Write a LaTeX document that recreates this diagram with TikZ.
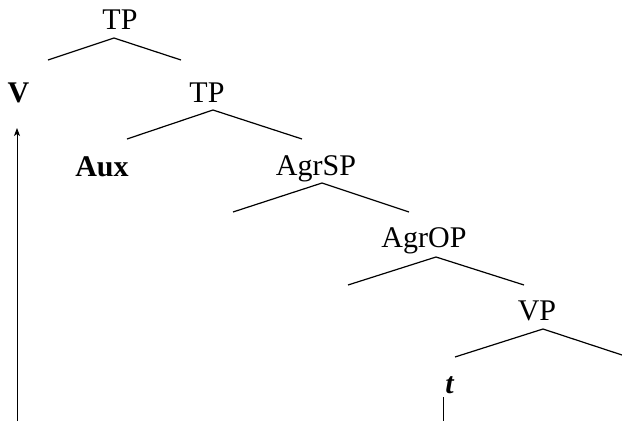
\documentclass[tikz,border=0pt]{standalone}
\usepackage{fontspec}
\setmainfont{Liberation Serif}
\usetikzlibrary{arrows.meta}
\tikzset{cat/.style={anchor=base,inner sep=0pt,font=\fontsize{30}{36}\selectfont},
	branch/.style={line width=1.2pt}}
\begin{document}
\begin{tikzpicture}[x=1pt,y=-1pt]
		\useasboundingbox (0,0) rectangle (622,421);
		\node[cat] (tp1) at (120,29) {TP};
		\node[cat] (v) at (18.5,102) {\textbf{V}};
		\node[cat] (tp2) at (207,102) {TP};
		\node[cat] (aux) at (102,176) {\textbf{Aux}};
		\node[cat] (agrsp) at (316,175) {AgrSP};
		\node[cat] (agrop) at (424,247) {AgrOP};
		\node[cat] (vp) at (537,320) {VP};
		\node[cat] (t) at (450,393) {\textbf{\textit{t}}};
		\coordinate (tp1-a) at (114,38); \coordinate (tp1-l) at (48,60); \coordinate (tp1-r) at (181,60);
		\coordinate (tp2-a) at (213,110); \coordinate (tp2-l) at (127,139); \coordinate (tp2-r) at (302,139);
		\coordinate (agrsp-a) at (322,183); \coordinate (agrsp-l) at (233,212); \coordinate (agrsp-r) at (409,212);
		\coordinate (agrop-a) at (436,257); \coordinate (agrop-l) at (348,285); \coordinate (agrop-r) at (524,285);
		\coordinate (vp-a) at (543,329); \coordinate (vp-l) at (455,357); \coordinate (vp-r) at (622,355);
		\draw[branch] (tp1-l)--(tp1-a)--(tp1-r);
		\draw[branch] (tp2-l)--(tp2-a)--(tp2-r);
		\draw[branch] (agrsp-l)--(agrsp-a)--(agrsp-r);
		\draw[branch] (agrop-l)--(agrop-a)--(agrop-r);
		\draw[branch] (vp-l)--(vp-a)--(vp-r);
		\coordinate (t-foot) at (443,421); \coordinate (v-foot) at (17,421);
		\draw[line width=1pt] (443,397)--(t-foot);
		\draw[-{Stealth[length=8pt,width=6pt,inset=2pt]},line width=1pt] (v-foot)--(17,128);
		\end{tikzpicture}
\end{document}
